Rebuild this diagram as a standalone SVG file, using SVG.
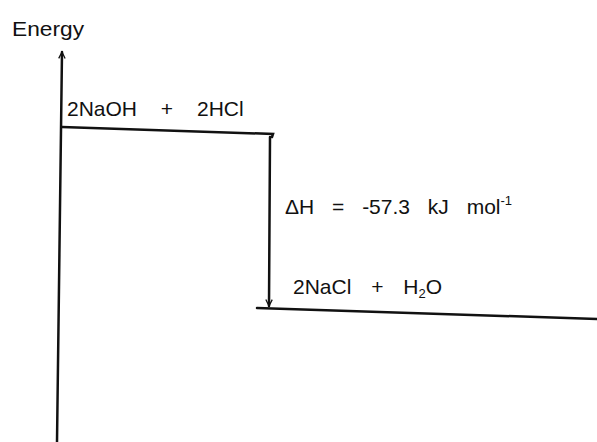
<svg xmlns="http://www.w3.org/2000/svg" width="597" height="442" viewBox="0 0 597 442">
<defs>
<marker id="ah" viewBox="0 0 10 10" refX="9" refY="5" markerWidth="8" markerHeight="8" orient="auto-start-reverse" markerUnits="userSpaceOnUse">
<path d="M1,1 L9,5 L1,9" fill="none" stroke="#111" stroke-width="1.6"/>
</marker>
</defs>
<style>
.ln{stroke:#111;stroke-width:2.5;fill:none;stroke-linecap:round}
.t{font-family:"Liberation Sans",Arial,sans-serif;fill:#111;font-size:21px}
</style>
<rect width="597" height="442" fill="#fff"/>
<g id="connectors">
<path class="ln" d="M57,442 L62,52" marker-end="url(#ah)"/>
<path class="ln" d="M270,137 L269,306" marker-end="url(#ah)"/>
</g>
<g id="axis-label"><text class="t" x="12" y="36" textLength="72" lengthAdjust="spacingAndGlyphs">Energy</text></g>
<g id="reactants">
<path class="ln" d="M62,127 L273,134 L272,137"/>
<text class="t" x="67" y="116" word-spacing="18">2NaOH + 2HCl</text>
</g>
<g id="enthalpy"><text class="t" x="285" y="214" word-spacing="12">ΔH = -57.3 kJ mol<tspan font-size="13" dy="-9">-1</tspan></text></g>
<g id="products">
<path class="ln" d="M257,308 L597,319"/>
<text class="t" x="293" y="294" word-spacing="14">2NaCl + H<tspan font-size="13" dy="4">2</tspan><tspan dy="-4">O</tspan></text>
</g>
</svg>
